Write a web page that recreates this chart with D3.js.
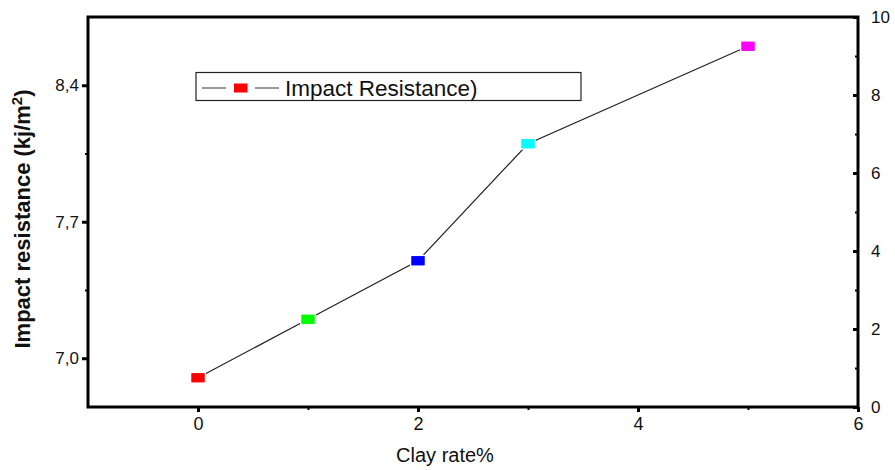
<!DOCTYPE html>
<html><head><meta charset="utf-8">
<script src="https://cdn.jsdelivr.net/npm/d3@7"></script>
<style>
body{margin:0;background:#fff;}
text{font-family:Arial,"Liberation Sans",sans-serif;}
.narrow{font-family:"Liberation Sans Narrow","Arial Narrow","Liberation Sans",Arial,sans-serif;}
</style></head>
<body><svg id="c" width="895" height="470"></svg>
<script>
const categories=[0,1,2,3,5];
const impact=[6.9,7.2,7.5,8.1,8.6];
const markerColors=["#ff0000","#00ff00","#0000ff","#00ffff","#ff00ff"];
const leftTicks=[7.0,7.7,8.4];
const leftMinor=[7.35,8.05];
const rightTicks=[0,2,4,6,8,10];
const rightMinor=[1,3,5,7,9];
const xTicks=[0,2,4,6];
const xMinor=[1,3,5];
const legendLabel="Impact Resistance)";

const svg=d3.select("#c");
const m={l:88,t:17,r:858,b:407};
const x=d3.scaleLinear().domain([-1,6]).range([m.l,m.r]);
const yL=d3.scaleLinear().domain([6.75,8.75]).range([m.b,m.t]);
const yR=d3.scaleLinear().domain([0,10]).range([m.b,m.t]);

function styleAxis(g,fs,cls){
  g.select(".domain").remove();
  g.selectAll(".tick line").attr("stroke","#000").attr("stroke-width",3);
  g.selectAll(".tick text").attr("font-size",fs).attr("fill","#111").attr("font-family",null).attr("class",cls||null);
}
// left axis
const gl=svg.append("g").attr("transform",`translate(${m.l},0)`)
  .call(d3.axisLeft(yL).tickValues(leftTicks).tickSize(6).tickPadding(3).tickFormat(d=>d.toFixed(1).replace(".",",")));
styleAxis(gl,17);
svg.append("g").attr("transform",`translate(${m.l},0)`)
  .call(d3.axisLeft(yL).tickValues(leftMinor).tickSize(3).tickFormat(""))
  .call(g=>{g.select(".domain").remove();g.selectAll("line").attr("stroke-width",2);});
// right axis
const gr=svg.append("g").attr("transform",`translate(${m.r},0)`)
  .call(d3.axisRight(yR).tickValues(rightTicks).tickSizeInner(-5).tickSizeOuter(0).tickPadding(13).tickFormat(d3.format("d")));
styleAxis(gr,17);
svg.append("g").attr("transform",`translate(${m.r},0)`)
  .call(d3.axisRight(yR).tickValues(rightMinor).tickSize(-3).tickFormat(""))
  .call(g=>{g.select(".domain").remove();g.selectAll("line").attr("stroke-width",2);});
// bottom axis
const gb=svg.append("g").attr("transform",`translate(0,${m.b})`)
  .call(d3.axisBottom(x).tickValues(xTicks).tickSize(5).tickPadding(5).tickFormat(d3.format("d")));
styleAxis(gb,18,"narrow");
svg.append("g").attr("transform",`translate(0,${m.b})`)
  .call(d3.axisBottom(x).tickValues(xMinor).tickSize(3).tickFormat(""))
  .call(g=>{g.select(".domain").remove();g.selectAll("line").attr("stroke-width",2);});

// frame
svg.append("rect").attr("x",m.l).attr("y",m.t).attr("width",m.r-m.l).attr("height",m.b-m.t)
  .attr("fill","none").attr("stroke","#000").attr("stroke-width",3);

// data line
const pts=categories.map((c,i)=>({x:c,y:impact[i],c:markerColors[i]}));
svg.append("path").datum(pts)
  .attr("d",d3.line().x(d=>x(d.x)).y(d=>yL(d.y)))
  .attr("fill","none").attr("stroke","#222").attr("stroke-width",1.2);
svg.selectAll(".mk").data(pts).join("rect").attr("class","mk")
  .attr("x",d=>x(d.x)-6.5).attr("y",d=>yL(d.y)-4.5).attr("width",13).attr("height",9)
  .attr("fill",d=>d.c).attr("stroke","#fff").attr("stroke-width",3).attr("paint-order","stroke");
svg.selectAll(".mk2").data(pts).join("rect").attr("class","mk2")
  .attr("x",d=>x(d.x)-6.5).attr("y",d=>yL(d.y)-4.5).attr("width",13).attr("height",9)
  .attr("fill",d=>d.c);

// legend
const lg=svg.append("g");
lg.append("rect").attr("x",196).attr("y",72.5).attr("width",385).attr("height",28)
  .attr("fill","#fff").attr("stroke","#222").attr("stroke-width",1.2);
lg.append("line").attr("x1",202).attr("x2",226).attr("y1",88).attr("y2",88).attr("stroke","#555").attr("stroke-width",1.2);
lg.append("line").attr("x1",255).attr("x2",279).attr("y1",88).attr("y2",88).attr("stroke","#555").attr("stroke-width",1.2);
lg.append("rect").attr("x",234).attr("y",83.5).attr("width",13.5).attr("height",9).attr("fill",markerColors[0]);
lg.append("text").attr("x",285).attr("y",95.5).attr("font-size",22.5).attr("fill","#111").text(legendLabel);

// axis titles
svg.append("text").attr("class","narrow").attr("x",445).attr("y",462).attr("text-anchor","middle")
  .attr("font-size",20).attr("fill","#111").text("Clay rate%");
const yt=svg.append("text").attr("transform","translate(30,219) rotate(-90)").attr("text-anchor","middle")
  .attr("font-size",22).attr("font-weight","bold").attr("fill","#111");
yt.append("tspan").text("Impact resistance (kj/m");
yt.append("tspan").attr("dy",-8).attr("font-size",15).text("2");
yt.append("tspan").attr("dy",8).text(")");
</script></body></html>
